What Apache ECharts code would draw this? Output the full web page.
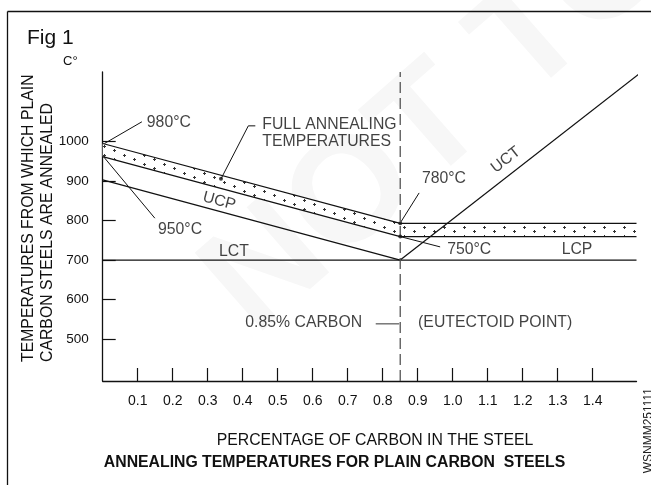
<!DOCTYPE html>
<html><head><meta charset="utf-8">
<script src="https://cdn.jsdelivr.net/npm/echarts@6/dist/echarts.min.js"></script>
<style>html,body{margin:0;padding:0;background:#fff}#c{width:651px;height:485px}</style>
</head><body><div id="c"></div>
<script>
// ---- data (carbon %, temperature °C) ----
const xTickValues = [0.1,0.2,0.3,0.4,0.5,0.6,0.7,0.8,0.9,1.0,1.1,1.2,1.3,1.4];
const yTickValues = [500,600,700,800,900,1000];
const fullAnnealTop = [[0,995],[0.85,793],[1.525,793]];
const ucpLine = [[0,962],[0.85,759.5],[1.525,759.5]];
const lctLine = [[0,903],[0.85,700]];
const lcpLine = [[0,700],[1.525,700]];
const uctLine = [[0.85,700],[1.532,1171]];
const eutectoidLine = [[0.85,394],[0.85,1176]];
const leader980 = [[0.005,995],[0.112,1050]];
const leaderFull = [[0.436,1039.7],[0.416,1039.7],[0.338,905.6]];
const leader950 = [[0.003,961],[0.149,806]];
const leader780 = [[0.904,870],[0.852,796.7]];
const leader750 = [[0.85,759.5],[0.964,733.4]];
const eutectoidDash = [[0.78,538.6],[0.847,538.6]];
const junctionDots = [[0.85,793],[0.85,759.5],[0.338,905.6]];
const labelTexts = ['980°C','FULL ANNEALING\nTEMPERATURES','UCP','950°C','LCT','UCT','780°C','750°C','LCP','0.85% CARBON','(EUTECTOID POINT)'];
const labelPoints = [[0.126,1047],[0.456,1022.5],[0.333,849],[0.158,776.5],[0.375,720.8],[1.152,953.6],[0.912,905.6],[0.984,725.8],[1.355,725.8],[0.741,541],[0.901,541]];
const labelAligns = ['left','left','center','left','center','center','left','left','center','right','left'];
const labelRotations = [0,0,-15,0,0,38,0,0,0,0,0];

// ---- styling ----
const FONT = 'Liberation Sans, Arial, sans-serif';
const INK = '#111';
const TXT = 15.8;

function plusPattern(){
  const c = document.createElement('canvas');
  c.width = 20; c.height = 9;
  const g = c.getContext('2d');
  g.fillStyle = '#fff'; g.fillRect(0,0,20,9);
  g.fillStyle = '#333';
  [[4,2],[14,6]].forEach(([x,y])=>{ g.fillRect(x-1,y,3,1); g.fillRect(x,y-1,1,3); });
  return c;
}

const chart = echarts.init(document.getElementById('c'), null, {renderer:'canvas'});

function lineSeries(data, extra){
  return Object.assign({
    type:'line', data:data, symbol:'none', silent:true, clip:false, animation:false,
    lineStyle:{color:INK, width:1.2}, z:3
  }, extra||{});
}

const bandPoly = fullAnnealTop.concat(ucpLine.slice().reverse());

const series = [
  {
    type:'custom', silent:true, animation:false, z:1, clip:false,
    data:[0],
    renderItem:function(params, api){
      const pts = bandPoly.map(p=>api.coord(p));
      return {type:'polygon', shape:{points:pts}, style:{fill:{image:plusPattern(), repeat:'repeat'}, stroke:null}};
    }
  },
  lineSeries(fullAnnealTop),
  lineSeries(ucpLine),
  lineSeries(lctLine),
  lineSeries(lcpLine),
  lineSeries(uctLine),
  lineSeries(eutectoidLine, {lineStyle:{color:'#555', width:1.3, type:[11,5]}}),
  lineSeries(leader980, {lineStyle:{color:INK, width:1}}),
  lineSeries(leaderFull, {lineStyle:{color:INK, width:1}}),
  lineSeries(leader950, {lineStyle:{color:INK, width:1}}),
  lineSeries(leader780, {lineStyle:{color:INK, width:1}}),
  lineSeries(leader750, {lineStyle:{color:INK, width:1}}),
  lineSeries(eutectoidDash, {lineStyle:{color:'#333', width:1}}),
  {type:'scatter', data:junctionDots, symbol:'circle', symbolSize:4, itemStyle:{color:INK}, silent:true, animation:false, z:4},
  {
    type:'scatter', symbolSize:1, itemStyle:{color:'rgba(0,0,0,0)'}, silent:true, animation:false, z:5,
    data: labelTexts.map((t,i)=>({
      value: labelPoints[i],
      label:{show:true, position:'inside', formatter:t, align:labelAligns[i], verticalAlign:'middle',
             rotate:labelRotations[i], color:INK, fontSize:TXT, fontFamily:FONT, lineHeight:17}
    }))
  }
];

chart.setOption({
  animation:false,
  backgroundColor:'#fff',
  grid:{left:102.7, right:14.5, top:72, bottom:104, containLabel:false},
  xAxis:{
    type:'value', min:0, max:1.525,
    axisLine:{show:true, lineStyle:{color:INK, width:1.3}},
    axisTick:{show:true, inside:true, length:13, customValues:xTickValues, lineStyle:{color:INK, width:1.2}},
    axisLabel:{customValues:xTickValues, formatter:v=>v.toFixed(1), margin:13, color:INK, fontSize:14, fontFamily:FONT},
    splitLine:{show:false}
  },
  yAxis:{
    type:'value', min:394, max:1176,
    axisLine:{show:true, lineStyle:{color:INK, width:1.3}},
    axisTick:{show:true, inside:true, length:13, customValues:yTickValues, lineStyle:{color:INK, width:1.2}},
    axisLabel:{customValues:yTickValues, formatter:v=>String(v), margin:14, color:INK, fontSize:13.5, fontFamily:FONT},
    splitLine:{show:false}
  },
  graphic:[
    {type:'text', x:440, y:120, rotation:0.72, z:-10, silent:true,
     style:{text:'NOT TO', font:'bold 150px '+FONT, fill:'#f7f7f7', align:'center', verticalAlign:'middle', textAlign:'center', textVerticalAlign:'middle'}},
    {type:'line', shape:{x1:7.5,y1:11.5,x2:651,y2:11.5}, style:{stroke:INK, lineWidth:1.3}},
    {type:'line', shape:{x1:7.5,y1:11.5,x2:7.5,y2:485}, style:{stroke:INK, lineWidth:1.3}},
    {type:'text', x:27, y:38, style:{text:'Fig 1', font:'21px '+FONT, fill:INK, verticalAlign:'middle', textVerticalAlign:'middle'}},
    {type:'text', x:63, y:61, style:{text:'C°', font:'13px '+FONT, fill:INK, verticalAlign:'middle', textVerticalAlign:'middle'}},
    {type:'text', x:38.5, y:362, rotation:Math.PI/2,
     style:{text:'TEMPERATURES FROM WHICH PLAIN\nCARBON STEELS ARE ANNEALED', font:TXT+'px '+FONT, lineHeight:19, fill:INK,
            align:'left', verticalAlign:'middle', textAlign:'left', textVerticalAlign:'middle'}},
    {type:'text', x:375, y:441, style:{text:'PERCENTAGE OF CARBON IN THE STEEL', font:TXT+'px '+FONT, fill:INK,
            align:'center', verticalAlign:'middle', textAlign:'center', textVerticalAlign:'middle'}},
    {type:'text', x:334.5, y:463, style:{text:'ANNEALING TEMPERATURES FOR PLAIN CARBON  STEELS', font:'bold 15.8px '+FONT, fill:INK,
            align:'center', verticalAlign:'middle', textAlign:'center', textVerticalAlign:'middle'}},
    {type:'text', x:648.5, y:388, rotation:Math.PI/2,
     style:{text:'WSNMM251111', font:'12px '+FONT, fill:'#222', align:'right', verticalAlign:'middle', textAlign:'right', textVerticalAlign:'middle'}}
  ],
  series:series
});
</script></body></html>
